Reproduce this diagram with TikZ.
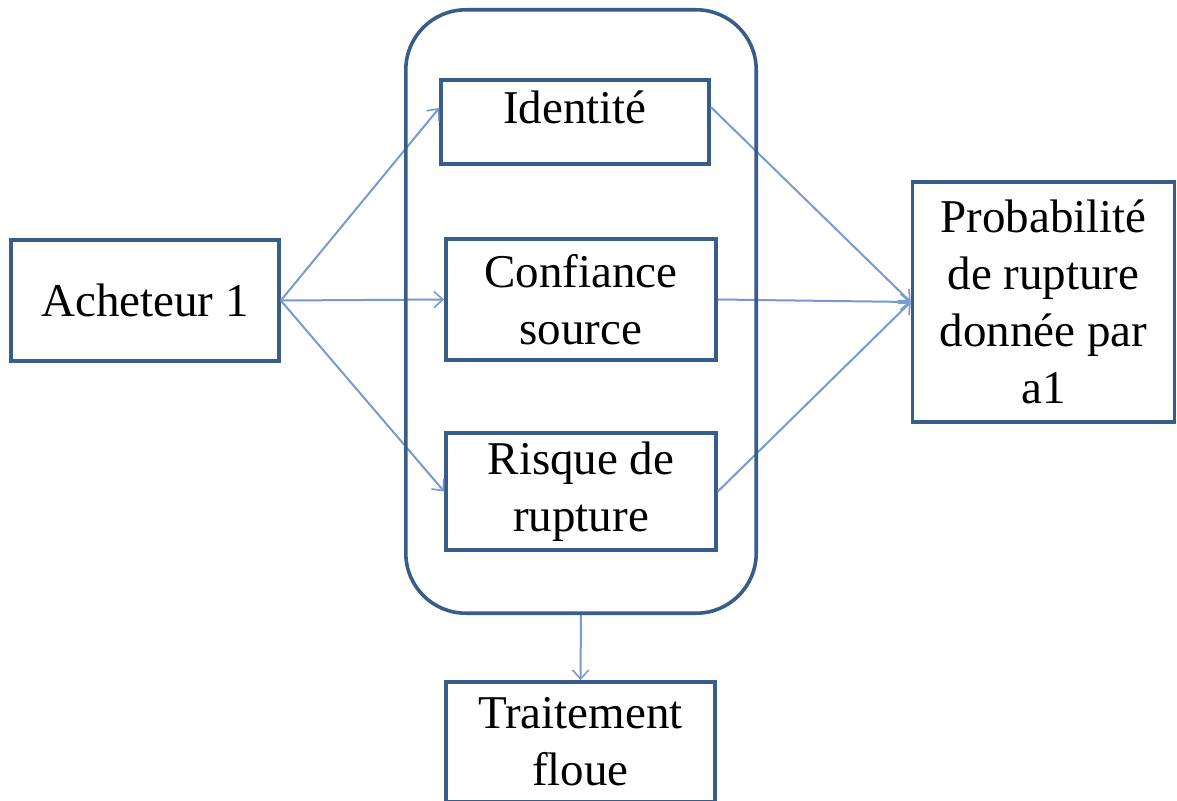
\documentclass[tikz,border=0pt]{standalone}
\usepackage{fontspec}
\setmainfont{Liberation Serif}
\usetikzlibrary{arrows.meta}
\definecolor{boxblue}{RGB}{56,93,138}
\definecolor{linkblue}{RGB}{120,155,205}
\begin{document}
\begin{tikzpicture}[x=1pt,y=-1pt,
  box/.style={draw=boxblue,line width=3.6pt,inner sep=0pt,align=center,
    font=\fontsize{47}{57}\selectfont},
  conn/.style={draw=linkblue,line width=2pt,
    -{Straight Barb[length=9pt,width=16pt,line width=1.6pt]}},
  groupbox/.style={draw=boxblue,line width=3.6pt,rounded corners=60pt}]
\useasboundingbox (0,0) rectangle (1177,800);
\fill[white] (0,0) rectangle (1177,800);

% container around the three criteria
\node[inner sep=0pt,minimum width=350pt,minimum height=603pt] (group) at (581,311.5) {};

\node[box,minimum width=268pt,minimum height=121pt] (buyer) at (145,300.5) {Acheteur 1};
\node[box,minimum width=268pt,minimum height=84pt] (ident) at (575,122) {\raisebox{-3pt}{\smash{Identité}}};
\node[box,minimum width=270pt,minimum height=121pt] (conf) at (581,299.5) {Confiance\\source};
\node[box,minimum width=270pt,minimum height=117pt] (risk) at (581,491.5) {Risque de\\rupture};
\node[box,minimum width=262pt,minimum height=240pt] (prob) at (1043.5,302) {Probabilité\\de rupture\\donnée par\\a1};
\node[box,minimum width=269pt,minimum height=120pt] (treat) at (580.5,742) {Traitement\\floue};

% links
\draw[conn] (buyer.east) -- ([yshift=14pt]ident.west);
\draw[conn] (buyer.east) -- (conf.west);
\draw[conn] (buyer.east) -- (risk.west);
\draw[conn] ([yshift=15pt]ident.east) -- (prob.west);
\draw[conn] (conf.east) -- (prob.west);
\draw[conn] (risk.east) -- (prob.west);
\draw[conn] (group.south) -- (treat.north);

% container outline, above the links
\draw[groupbox] (group.south west) rectangle (group.north east);
\end{tikzpicture}
\end{document}
